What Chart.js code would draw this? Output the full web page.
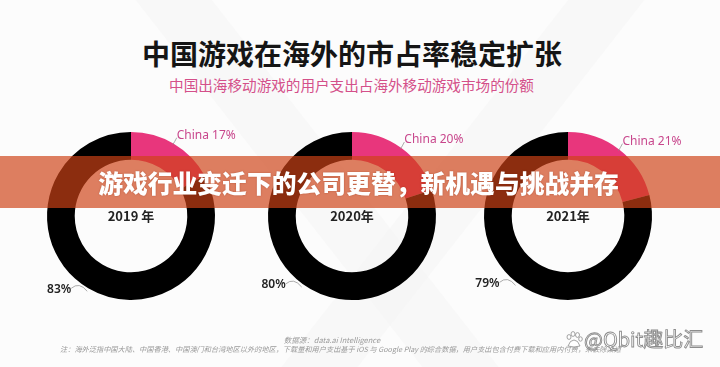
<!DOCTYPE html>
<html>
<head>
<meta charset="utf-8">
<script src="https://cdn.jsdelivr.net/npm/chart.js@4.4.1/dist/chart.umd.min.js"></script>
<style>
  html, body { margin: 0; padding: 0; }
  body {
    width: 720px; height: 367px; overflow: hidden; position: relative;
    background: #fcfcfc;
    font-family: "Noto Sans CJK SC", "Noto Sans", sans-serif;
  }
  .bg1, .bg2 { position: absolute; background: #f3f3f3; opacity: 0.45; }
  .bg1 { left: 300px; top: -120px; width: 60px; height: 640px; transform: rotate(-38deg); }
  .bg2 { left: 420px; top: -120px; width: 60px; height: 640px; transform: rotate(38deg); }
  .title {
    position: absolute; left: 0; width: 704px; top: 34px; text-align: center;
    font-size: 28px; font-weight: 700; color: #151515; line-height: 38px;
  }
  .subtitle {
    position: absolute; left: 0; width: 703px; top: 75px; text-align: center;
    font-size: 14.6px; color: #d4508a; line-height: 20px;
  }
  canvas.ring { position: absolute; top: 96px; }
  .banner {
    position: absolute; left: 0; top: 156px; width: 720px; height: 52px;
    background: rgba(206, 66, 22, 0.68); z-index: 5;
  }
  .banner span {
    position: absolute; left: 0; width: 717px; top: 10px; text-align: center;
    font-size: 24.8px; font-weight: 900; color: #fff; line-height: 32px;
    text-shadow: 0 0 2px rgba(120, 30, 0, 0.4);
  }
  .src {
    position: absolute; left: 0; width: 664px; top: 334px; text-align: center;
    font-size: 7.5px; font-style: italic; color: #9a9a9a;
  }
  .note {
    position: absolute; left: 60px; top: 344px; white-space: nowrap;
    font-size: 7.2px; font-style: italic; color: #9a9a9a;
  }
  .wm {
    position: absolute; left: 584px; top: 326px; z-index: 6;
    font-size: 20px; color: #fff; -webkit-text-stroke: 0.9px #8c8c8c;
    font-family: "Noto Sans CJK SC", sans-serif; line-height: 26px;
  }
  .paw {
    position: absolute; left: 565px; top: 331px; width: 18px; height: 18px; z-index: 6;
  }
</style>
</head>
<body>
<div class="bg1"></div>
<div class="bg2"></div>
<div class="title">中国游戏在海外的市占率稳定扩张</div>
<div class="subtitle">中国出海移动游戏的用户支出占海外移动游戏市场的份额</div>

<canvas class="ring" id="ring0" width="240" height="240" style="left:11px"></canvas>
<canvas class="ring" id="ring1" width="240" height="240" style="left:232px"></canvas>
<canvas class="ring" id="ring2" width="240" height="240" style="left:448px"></canvas>

<div class="banner"><span>游戏行业变迁下的公司更替，新机遇与挑战并存</span></div>

<div class="src">数据源：data.ai Intelligence</div>
<div class="note">注：海外泛指中国大陆、中国香港、中国澳门和台湾地区以外的地区，下载量和用户支出基于 iOS 与 Google Play 的综合数据，用户支出包含付费下载和应用内付费，未去除渠道</div>

<svg class="paw" viewBox="0 0 18 18">
  <g fill="#fff" stroke="#8c8c8c" stroke-width="0.8">
    <ellipse cx="4" cy="6" rx="2" ry="2.4"/>
    <ellipse cx="8" cy="3" rx="2" ry="2.4"/>
    <ellipse cx="12.5" cy="4" rx="2" ry="2.4"/>
    <ellipse cx="15.5" cy="8" rx="1.8" ry="2.2"/>
    <path d="M3 15 Q5 9 9 9 Q13 9 15 15 Q9 17 3 15 Z"/>
  </g>
</svg>
<div class="wm">@Qbit趣比汇</div>

<script>
const years = ['2019 年', '2020年', '2021年'];
const chinaShare = [17, 20, 21];
const otherShare = [83, 80, 79];
const segmentNames = ['China', 'Other'];

const pink = '#e8367c';

// labels sit at the outer edge of each slice, year goes in the hole
const ringLabels = {
  id: 'ringLabels',
  afterDatasetsDraw(chart, args, opts) {
    const ctx = chart.ctx;
    const meta = chart.getDatasetMeta(0);
    const values = chart.data.datasets[0].data;
    ctx.save();
    meta.data.forEach((arc, i) => {
      const p = arc.getProps(['x', 'y', 'startAngle', 'endAngle', 'outerRadius'], true);
      const mid = (p.startAngle + p.endAngle) / 2;
      const px = p.x + Math.cos(mid) * p.outerRadius;
      const py = p.y + Math.sin(mid) * p.outerRadius;
      ctx.strokeStyle = '#888';
      ctx.lineWidth = 0.7;
      ctx.beginPath();
      if (i === 0) {
        ctx.moveTo(px - 1, py + 1);
        ctx.quadraticCurveTo(px + 1, py - 2, px + 3, py - 6);
        ctx.stroke();
        ctx.font = '12px "Noto Sans", sans-serif';
        ctx.fillStyle = '#c8468c';
        ctx.textAlign = 'left';
        ctx.textBaseline = 'middle';
        ctx.fillText(chart.data.labels[i] + ' ' + values[i] + '%', px + 3, py - 8);
      } else {
        ctx.moveTo(px - 17, py);
        ctx.quadraticCurveTo(px - 9, py - 7, px - 1, py + 3);
        ctx.stroke();
        ctx.font = '600 12px "Noto Sans", sans-serif';
        ctx.fillStyle = '#222';
        ctx.textAlign = 'right';
        ctx.textBaseline = 'middle';
        ctx.fillText(values[i] + '%', px - 17, py + 1);
      }
    });
    const c = meta.data[0];
    ctx.font = '600 13px "Noto Sans CJK SC", sans-serif';
    ctx.fillStyle = '#222';
    ctx.textAlign = 'center';
    ctx.textBaseline = 'middle';
    ctx.fillText(opts.year, c.x, c.y);
    ctx.restore();
  }
};

years.forEach((year, k) => {
  new Chart(document.getElementById('ring' + k), {
    type: 'doughnut',
    data: {
      labels: segmentNames,
      datasets: [{
        data: [chinaShare[k], otherShare[k]],
        backgroundColor: [pink, '#000'],
        borderWidth: 0
      }]
    },
    options: {
      responsive: false,
      animation: false,
      cutout: '67%',
      layout: { padding: 36 },
      plugins: {
        legend: { display: false },
        tooltip: { enabled: false },
        ringLabels: { year: year }
      }
    },
    plugins: [ringLabels]
  });
});
</script>
</body>
</html>
